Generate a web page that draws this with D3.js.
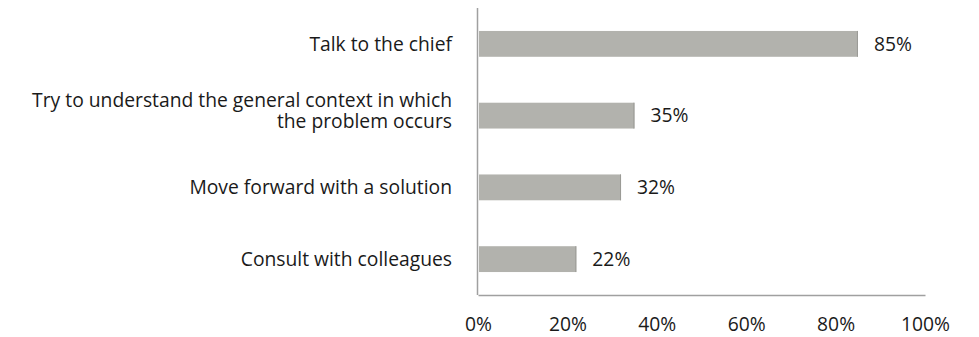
<!DOCTYPE html>
<html>
<head>
<meta charset="utf-8">
<script src="https://cdn.jsdelivr.net/npm/d3@7"></script>
<style>
  html, body { margin: 0; padding: 0; background: #fff; }
  svg { display: block; font-family: "Open Sans", "Noto Sans", sans-serif; }
</style>
</head>
<body>
<svg id="chart" width="979" height="337"></svg>
<script>
// Survey responses: share of respondents choosing each action
const categories = [
  ["Talk to the chief"],
  ["Try to understand the general context in which", "the problem occurs"],
  ["Move forward with a solution"],
  ["Consult with colleagues"]
];
const values = [85, 35, 32, 22];
const tickValues = [0, 20, 40, 60, 80, 100];

const svg = d3.select("#chart");
const plotLeft = 478, plotRight = 925, plotTop = 8, plotBottom = 295;
const fontSize = 19.3;
const textColor = "#1a1a1a";

const x = d3.scaleLinear().domain([0, 100]).range([plotLeft, plotRight]);
const y = d3.scaleBand()
  .domain(d3.range(categories.length))
  .range([plotTop, plotBottom])
  .paddingInner(0.64)
  .paddingOuter(0.32);

// bars
svg.append("g").selectAll("rect")
  .data(values)
  .join("rect")
  .attr("x", x(0) + 1)
  .attr("y", (d, i) => y(i))
  .attr("width", d => x(d) - x(0) - 1)
  .attr("height", y.bandwidth())
  .attr("fill", "#b2b2ad");

// subtle darker right edge on each bar
svg.append("g").selectAll("line")
  .data(values)
  .join("line")
  .attr("x1", d => x(d) - 0.5).attr("x2", d => x(d) - 0.5)
  .attr("y1", (d, i) => y(i)).attr("y2", (d, i) => y(i) + y.bandwidth())
  .attr("stroke", "#9a9a95").attr("stroke-width", 1);

// value labels
svg.append("g").selectAll("text")
  .data(values)
  .join("text")
  .attr("x", d => x(d) + 16)
  .attr("y", (d, i) => y(i) + y.bandwidth() / 2)
  .attr("dy", "0.35em")
  .attr("font-size", fontSize)
  .attr("fill", textColor)
  .text(d => d + "%");

// category labels (right-aligned; wrapped labels sit slightly high)
const lineH = 21.5;
svg.append("g").selectAll("text")
  .data(categories)
  .join("text")
  .attr("text-anchor", "end")
  .attr("font-size", fontSize)
  .attr("fill", textColor)
  .each(function (lines, i) {
    const cy = y(i) + y.bandwidth() / 2;
    const shift = lines.length > 1 ? -5 : 0;
    const start = cy - (lines.length - 1) * lineH / 2 + shift;
    d3.select(this).selectAll("tspan")
      .data(lines)
      .join("tspan")
      .attr("x", 452)
      .attr("y", (l, j) => start + j * lineH)
      .attr("dy", "0.35em")
      .text(l => l);
  });

// vertical axis line
svg.append("line")
  .attr("x1", plotLeft - 0.5).attr("x2", plotLeft - 0.5)
  .attr("y1", plotTop).attr("y2", plotBottom)
  .attr("stroke", "#a0a0a0").attr("stroke-width", 1.5);

const xAxis = d3.axisBottom(x)
  .tickValues(tickValues)
  .tickSize(0)
  .tickPadding(22)
  .tickFormat(d => d + "%");

const gx = svg.append("g")
  .attr("transform", `translate(0,${plotBottom})`)
  .call(xAxis);
gx.select(".domain").attr("stroke", "#a0a0a0").attr("stroke-width", 1.5);
gx.selectAll("text")
  .attr("font-size", fontSize)
  .attr("font-family", "\"Open Sans\", \"Noto Sans\", sans-serif")
  .attr("fill", textColor);
</script>
</body>
</html>
